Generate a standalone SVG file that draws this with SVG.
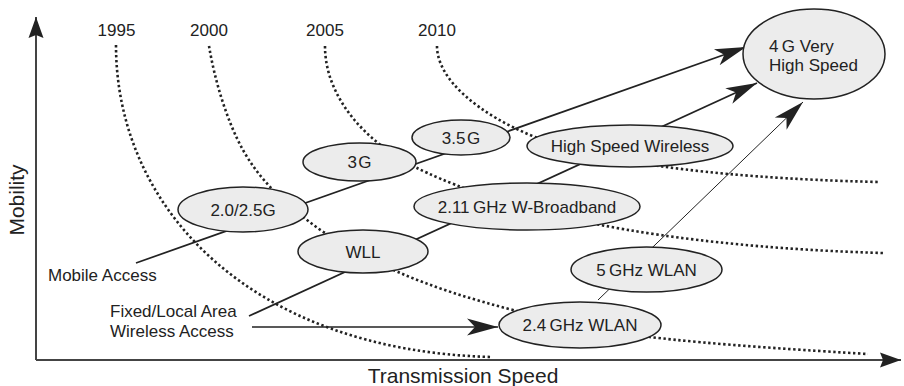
<svg xmlns="http://www.w3.org/2000/svg" width="904" height="386" viewBox="0 0 904 386">
<defs>
<style>
.t{font-family:"Liberation Sans",Arial,sans-serif;font-size:17px;fill:#222}
.ax{font-family:"Liberation Sans",Arial,sans-serif;font-size:21px;fill:#222}
.dot{fill:none;stroke:#222;stroke-width:2.6;stroke-dasharray:2.4 2.6}
.ln{fill:none;stroke:#222;stroke-width:1.7}
.thin{fill:none;stroke:#222;stroke-width:1}
.axis{fill:none;stroke:#444;stroke-width:2}
.node ellipse{fill:#ececec;stroke:#222;stroke-width:1.5}
</style>
<marker id="arr" markerUnits="userSpaceOnUse" markerWidth="34" markerHeight="20" viewBox="-32 -10 34 20" refX="0" refY="0" orient="auto">
<path d="M0,0 L-31,-8.5 L-23,0 L-31,8.5 Z" fill="#222"/>
</marker>
<marker id="axarr" markerUnits="userSpaceOnUse" markerWidth="24" markerHeight="18" viewBox="-22 -9 24 18" refX="0" refY="0" orient="auto">
<path d="M0,0 L-21,-7.5 L-18,0 L-21,7.5 Z" fill="#222"/>
</marker>
</defs>
<rect width="904" height="386" fill="#fff"/>

<g id="axes">
<path class="axis" d="M36,360 V17" marker-end="url(#axarr)"/>
<path class="axis" d="M36,360 H901" marker-end="url(#axarr)"/>
<text class="ax" transform="translate(24,200) rotate(-90)" text-anchor="middle">Mobility</text>
<text class="ax" x="463" y="383" text-anchor="middle">Transmission Speed</text>
</g>

<g id="years">
<text class="t" x="116.5" y="36" text-anchor="middle">1995</text>
<text class="t" x="209" y="36" text-anchor="middle">2000</text>
<text class="t" x="325" y="36" text-anchor="middle">2005</text>
<text class="t" x="437" y="36" text-anchor="middle">2010</text>
</g>

<g id="timelines">
<path class="dot" d="M116,45 C116,208 250,351 492,357"/>
<path class="dot" d="M209,46 C214.7,80 226.7,120.8 243,150 C259.3,179.2 281.2,199.7 307,220 C332.8,240.3 363.7,257 398,272 C432.3,287 471,299.2 513,310 C555,320.8 590.8,329.7 650,337 C709.2,344.3 809.7,350.5 868,354"/>
<path class="dot" d="M325,46 C325,100 370,145 417,168 C470,194 600,245 883,253"/>
<path class="dot" d="M437,46 C437,80 480,115 535,137 C590,159 700,178 880,182"/>
</g>

<g id="connectors">
<path class="ln" d="M136,263 L746,47" marker-end="url(#arr)"/>
<path class="ln" d="M249,316 L757,83" marker-end="url(#arr)"/>
<path class="ln" d="M252,327 L498,327" marker-end="url(#arr)"/>
<path class="thin" d="M598,300 L803,102" marker-end="url(#arr)"/>
</g>

<g id="labels">
<text class="t" x="48" y="281">Mobile Access</text>
<text class="t" x="110" y="317">Fixed/Local Area</text>
<text class="t" x="110" y="337">Wireless Access</text>
</g>

<g id="n-20g" class="node">
<ellipse cx="243" cy="209.5" rx="65" ry="22.5"/>
<text class="t" x="243" y="215.5" text-anchor="middle">2.0/2.5G</text>
</g>
<g id="n-3g" class="node">
<ellipse cx="359.5" cy="162" rx="56.5" ry="19"/>
<text class="t" x="359.5" y="168" text-anchor="middle">3&#8202;G</text>
</g>
<g id="n-35g" class="node">
<ellipse cx="461" cy="137.5" rx="49" ry="17.5"/>
<text class="t" x="461" y="143.5" text-anchor="middle">3.5&#8202;G</text>
</g>
<g id="n-wll" class="node">
<ellipse cx="363" cy="251.5" rx="65" ry="21.5"/>
<text class="t" x="363" y="257.5" text-anchor="middle">WLL</text>
</g>
<g id="n-211" class="node">
<ellipse cx="527" cy="206.5" rx="113" ry="23.5"/>
<text class="t" x="527" y="212.5" text-anchor="middle">2.11&#8201;GHz W-Broadband</text>
</g>
<g id="n-hsw" class="node">
<ellipse cx="630" cy="146" rx="103" ry="21"/>
<text class="t" x="630" y="152" text-anchor="middle">High Speed Wireless</text>
</g>
<g id="n-5g" class="node">
<ellipse cx="646.5" cy="269.5" rx="75.5" ry="22.5"/>
<text class="t" x="646.5" y="275.5" text-anchor="middle">5&#8201;GHz WLAN</text>
</g>
<g id="n-24g" class="node">
<ellipse cx="580" cy="325" rx="81" ry="23"/>
<text class="t" x="580" y="331" text-anchor="middle">2.4&#8201;GHz WLAN</text>
</g>
<g id="n-4g" class="node">
<ellipse cx="814" cy="54" rx="71" ry="45"/>
<text class="t" x="769" y="52">4&#8201;G Very</text>
<text class="t" x="769" y="71">High Speed</text>
</g>
</svg>
